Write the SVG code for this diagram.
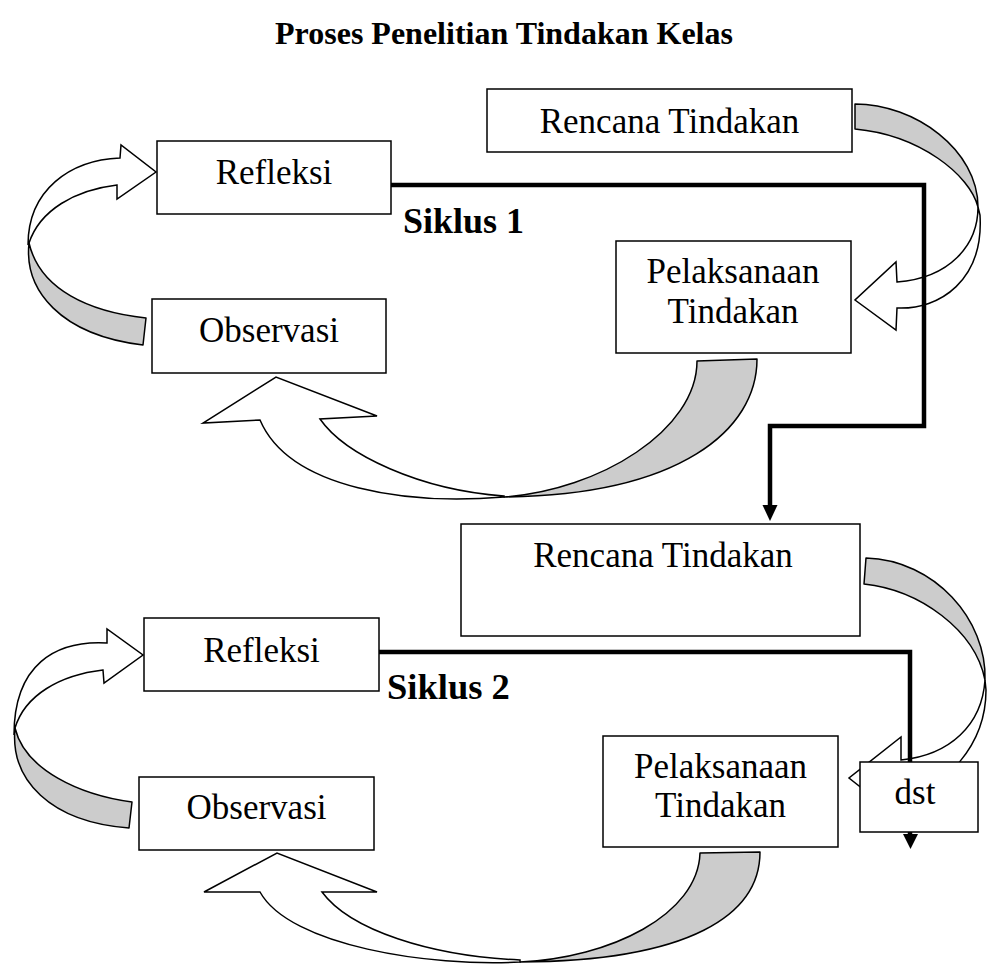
<svg xmlns="http://www.w3.org/2000/svg" width="987" height="967" viewBox="0 0 987 967">
<style>
.box{fill:#fff;stroke:#000;stroke-width:1.5}
.t{font-family:"Liberation Serif","Times New Roman",serif;font-size:35px;fill:#000;text-anchor:middle}
.b{font-family:"Liberation Serif","Times New Roman",serif;font-weight:bold;fill:#000}
.gray{fill:#cccccc;stroke:#000;stroke-width:1.5;stroke-linejoin:round}
.white{fill:#fff;stroke:#000;stroke-width:1.5;stroke-linejoin:miter}
.thick{fill:none;stroke:#000;stroke-width:4.5}
.head{fill:#000;stroke:none}
</style>
<rect width="987" height="967" fill="#fff"/>
<text class="b" x="504" y="44" font-size="32" text-anchor="middle">Proses Penelitian Tindakan Kelas</text>

<g id="curved-arrows">
<g id="arrow-a">
<path class="gray" d="M855,104 C915,104 978,150 978,207 C970,175 920,135 855,129 Z"/>
<path class="white" d="M978,207 C978,245 950,278 897,282 L896,262 L855,300 L896,330 L897,308 C940,310 984,280 980,215 Z"/>
</g>
<g id="arrow-b">
<path class="gray" d="M146,318 C90,312 40,290 29,243 C24,290 60,335 143,345 Z"/>
<path class="white" d="M29,243 C40,210 75,190 117,185 L117,199 L156,172 L121,145 L120,158 C70,160 28,190 28,245 Z"/>
</g>
<g id="arrow-c">
<path class="gray" d="M697,361 L757,359 C757,430 680,495 504,497 C600,490 697,430 697,361 Z"/>
<path class="white" d="M504,497 C410,505 290,490 260,420 L203,423 L276,377 L377,416 L320,419 C345,455 420,490 504,496 Z"/>
</g>
<g id="arrow-d">
<path class="gray" d="M866,558 L864,584 C920,590 975,630 985,680 C987,620 935,560 866,558 Z"/>
<path class="white" d="M985,680 C982,725 950,755 901,760 L901,737 L849,778 L901,819 L901,796 C945,790 986,745 986,690 Z"/>
</g>
<g id="arrow-e">
<path class="gray" d="M132,802 C80,795 25,770 15,728 C10,780 50,822 129,828 Z"/>
<path class="white" d="M15,728 C25,695 60,675 103,670 L104,683 L143,655 L107,629 L107,643 C55,640 14,665 14,735 Z"/>
</g>
<g id="arrow-f">
<path class="gray" d="M700,853 L760,852 C760,915 690,961 520,962 C610,958 698,915 700,853 Z"/>
<path class="white" d="M520,962 C430,967 290,946 260,892 L204,892 L277,853 L377,892 L322,892 C350,930 430,956 520,960 Z"/>
</g>
</g>

<g id="connectors">
<path class="thick" d="M391,185 L924,185 L924,426 L770,426 L770,506"/>
<polygon class="head" points="762.5,505 777.5,505 770,521"/>
<path class="thick" d="M379,652 L910,652 L910,836"/>
<polygon class="head" points="903,834 918,834 910.5,849"/>
</g>

<g id="rencana1"><rect class="box" x="487" y="89" width="365" height="63"/><text class="t" x="669.5" y="133">Rencana Tindakan</text></g>
<g id="refleksi1"><rect class="box" x="157" y="141" width="234" height="73"/><text class="t" x="274" y="184">Refleksi</text></g>
<g id="pelaksanaan1"><rect class="box" x="616" y="241" width="235" height="112"/><text class="t" x="733" y="283">Pelaksanaan</text><text class="t" x="733" y="323">Tindakan</text></g>
<g id="observasi1"><rect class="box" x="152" y="299" width="234" height="74"/><text class="t" x="269" y="342">Observasi</text></g>
<text id="siklus1" class="b" x="403" y="233" font-size="36">Siklus 1</text>

<g id="rencana2"><rect class="box" x="461" y="524" width="399" height="112"/><text class="t" x="663" y="567">Rencana Tindakan</text></g>
<g id="refleksi2"><rect class="box" x="144" y="618" width="235" height="73"/><text class="t" x="261.5" y="662">Refleksi</text></g>
<g id="pelaksanaan2"><rect class="box" x="603" y="736" width="235" height="111"/><text class="t" x="720.5" y="778">Pelaksanaan</text><text class="t" x="720.5" y="817">Tindakan</text></g>
<g id="observasi2"><rect class="box" x="139" y="777" width="235" height="73"/><text class="t" x="256.5" y="819">Observasi</text></g>
<text id="siklus2" class="b" x="387" y="699" font-size="36.5">Siklus 2</text>
<g id="dst"><rect class="box" x="860" y="762" width="118" height="70"/><text class="t" x="915" y="804" font-size="33">dst</text></g>
</svg>
